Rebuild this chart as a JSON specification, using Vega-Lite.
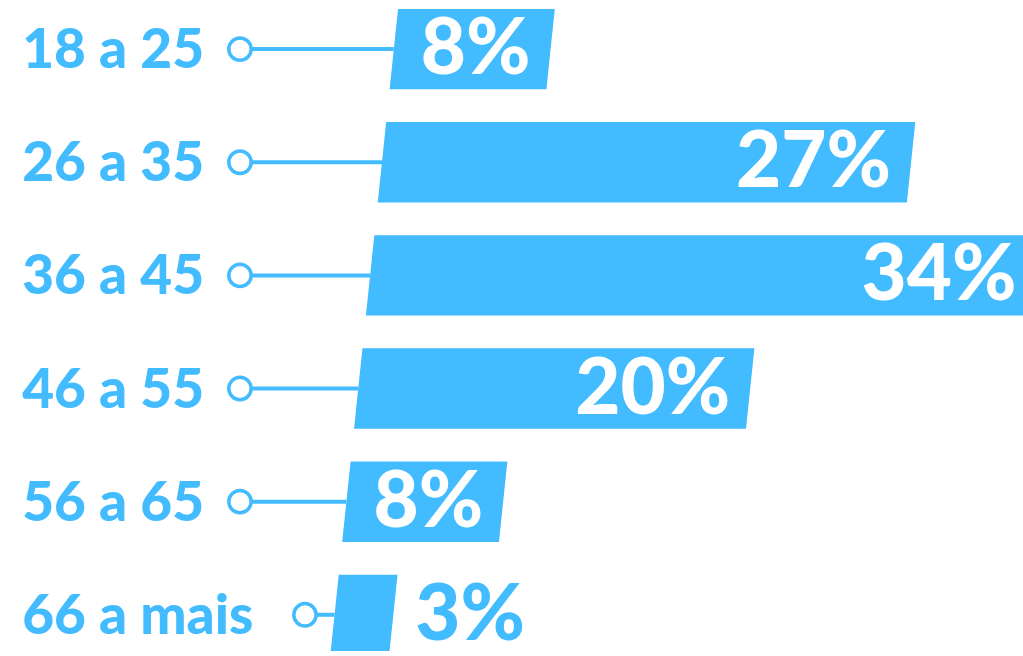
{
  "$schema": "https://vega.github.io/schema/vega-lite/v6.json",
  "width": 1023,
  "height": 656,
  "padding": 0,
  "autosize": {"type": "fit", "contains": "padding"},
  "background": "white",
  "config": {"view": {"stroke": null}},
  "data": {"values": [
    {"faixa": "18 a 25", "pct": 8},
    {"faixa": "26 a 35", "pct": 27},
    {"faixa": "36 a 45", "pct": 34},
    {"faixa": "46 a 55", "pct": 20},
    {"faixa": "56 a 65", "pct": 8},
    {"faixa": "66 a mais", "pct": 3}
  ]},
  "transform": [
    {"window": [{"op": "row_number", "as": "n"}]},
    {"calculate": "datum.n - 1 + 0.355", "as": "ym"},
    {"calculate": "-0.605 * datum.ym", "as": "xl"},
    {"calculate": "datum.xl + datum.pct", "as": "xr"},
    {"calculate": "-19.67 + 1.658 * length(datum.faixa)", "as": "xc"},
    {"calculate": "datum.pct + '%'", "as": "rotulo"}
  ],
  "encoding": {
    "y": {"field": "ym", "type": "quantitative",
      "scale": {"domain": [-0.079, 5.675], "reverse": true, "zero": false, "nice": false},
      "axis": null}
  },
  "layer": [
    {
      "transform": [
        {"calculate": "[0, 0.7105]", "as": "dy"},
        {"flatten": ["dy"]},
        {"calculate": "datum.n - 1 + datum.dy", "as": "yy"},
        {"calculate": "-0.605 * datum.yy", "as": "x0"},
        {"calculate": "datum.x0 + datum.pct", "as": "x1"}
      ],
      "mark": {"type": "area", "orient": "horizontal", "color": "#43BBFF", "clip": true},
      "encoding": {
        "y": {"field": "yy", "type": "quantitative"},
        "x": {"field": "x0", "type": "quantitative",
          "scale": {"domain": [-20.31, 31.89], "zero": false, "nice": false},
          "axis": null},
        "x2": {"field": "x1"},
        "detail": {"field": "faixa"}
      }
    },
    {
      "mark": {"type": "rule", "color": "#43BBFF", "strokeWidth": 4},
      "encoding": {
        "x": {"field": "xc", "type": "quantitative"},
        "x2": {"field": "xl"}
      }
    },
    {
      "mark": {"type": "point", "shape": "circle", "filled": false, "fill": "white", "fillOpacity": 1,
        "stroke": "#43BBFF", "strokeWidth": 3.5, "size": 500, "opacity": 1},
      "encoding": {
        "x": {"field": "xc", "type": "quantitative"}
      }
    },
    {
      "mark": {"type": "text", "align": "left", "baseline": "middle", "font": "Lato",
        "fontWeight": 900, "fontSize": 55, "color": "#43BBFF", "dy": 2},
      "encoding": {
        "x": {"datum": -19.18},
        "text": {"field": "faixa"}
      }
    },
    {
      "transform": [{"filter": "datum.pct >= 5"}],
      "mark": {"type": "text", "align": "right", "baseline": "middle", "font": "Lato",
        "fontWeight": 900, "fontSize": 78, "color": "white", "dx": -20, "dy": 2},
      "encoding": {
        "x": {"field": "xr", "type": "quantitative"},
        "text": {"field": "rotulo"}
      }
    },
    {
      "transform": [{"filter": "datum.pct < 5"}],
      "mark": {"type": "text", "align": "left", "baseline": "middle", "font": "Lato",
        "fontWeight": 900, "fontSize": 78, "color": "#43BBFF", "dx": 22, "dy": 2},
      "encoding": {
        "x": {"field": "xr", "type": "quantitative"},
        "text": {"field": "rotulo"}
      }
    }
  ]
}
